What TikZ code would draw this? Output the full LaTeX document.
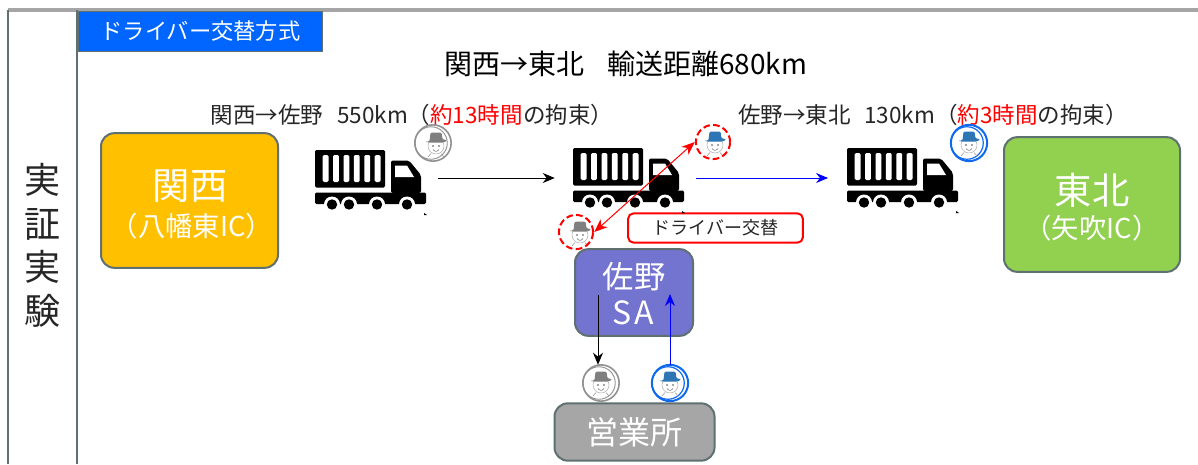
\documentclass[tikz,border=0pt]{standalone}
\usepackage{fontspec}
\setmainfont{Noto Sans CJK JP}
\usetikzlibrary{arrows.meta}
\definecolor{frameline}{HTML}{5F7070}
\definecolor{topline}{HTML}{A6A6A6}
\definecolor{capgrey}{HTML}{7F7F7F}
\definecolor{capblue}{HTML}{2E75B6}
\definecolor{ringblue}{HTML}{0F6AF0}
\definecolor{tabblue}{HTML}{0066FF}
\definecolor{kansaifill}{HTML}{FFC000}
\definecolor{tohokufill}{HTML}{92D050}
\definecolor{sanofill}{HTML}{7373D0}
\definecolor{officefill}{HTML}{A6A6A6}
\definecolor{txtdark}{HTML}{262626}
\newcommand{\fs}[1]{\fontsize{#1}{#1}\selectfont}
\tikzset{
  x=0.75pt,y=-0.75pt,
  areabox/.style={draw=frameline,line width=1.5pt,rounded corners=10pt,text=white,align=center,inner sep=0pt},
  truckbox/.style={minimum width=84pt,minimum height=45pt,inner sep=0pt},
  ringnode/.style={circle,minimum size=27pt,inner sep=0pt},
  arr/.style={-{Stealth[length=9pt,width=7.5pt]},line width=0.75pt},
  pics/truck/.style={code={
    \fill[black,rounded corners=1pt] (0,0) rectangle (70,37.5);
    \foreach \k in {0,1,2,3,4,5}{
      \fill[white,rounded corners=1pt] (7.7+\k*10.4,5) rectangle (13.5+\k*10.4,32);
    }
    \fill[black,rounded corners=1.5pt] (76,10.5) -- (94,10.5) -- (106,25) -- (106,43) -- (76,43) -- cycle;
    \fill[white] (80,15.5) -- (92,15.5) -- (99,27) -- (80,27) -- cycle;
    \fill[black,rounded corners=1pt] (0,42.5) rectangle (111,54);
    \foreach \w in {17,34,62,92}{
      \fill[white] (\w,54.5) circle (6pt);
      \fill[black] (\w,54.5) circle (3.9pt);
    }
    \fill[black] (109,63) -- (112,65) -- (109,65) -- cycle;
  }},
  pics/driver/.style={code={
    \draw[capgrey!60,line width=0.4pt,fill=white] (0,3) circle (6pt);
    \fill[#1,rounded corners=1pt] (-6.5,-1.5) -- (-5.5,-10.5) -- (5.5,-10.5) -- (6.5,-3.5) -- (11.5,-3) -- (8,-0.5) -- (-8,-0.5) -- (-11.5,-1.5) -- cycle;
    \fill[black!70] (-3,3) circle (0.6pt) (3,3) circle (0.6pt);
    \draw[black!60,line width=0.35pt] (-3,6.5) .. controls (-1,9) and (1,9) .. (3,6.5);
    \draw[capgrey!70,line width=0.5pt] (-5,10.5) -- (-8,14) (5,10.5) -- (8,14);
  }},
  pics/ringgrey/.style={code={
    \draw[capgrey!85,line width=1.2pt] (0,0) circle (13.6pt);
    \draw[capgrey!85,line width=0.7pt] (-2,0) circle (12.2pt);
  }},
  pics/ringblue/.style={code={
    \draw[ringblue,line width=1.5pt] (0,0) circle (13.6pt);
    \draw[ringblue,line width=0.9pt] (-2,0) circle (12.2pt);
  }},
  pics/ringred/.style={code={
    \draw[red,line width=1.5pt,dash pattern=on 5pt off 2.5pt] (0,0) circle (12.8pt);
  }},
}
\begin{document}
\begin{tikzpicture}
\useasboundingbox (0,0) rectangle (1198,464);
\fill[white] (0,0) rectangle (1198,464);
% frame
\coordinate (ftl) at (8,10);
\coordinate (ftr) at (1198,10);
\coordinate (fbl) at (8,464);
\coordinate (fml) at (77,10);
\coordinate (fmb) at (77,464);
\draw[topline,line width=3pt] (ftl) -- (ftr);
\draw[frameline,line width=1.5pt] (fbl) -- (ftl);
\draw[frameline,line width=1.5pt] (fmb) -- (fml);
\node[draw=frameline,line width=1.2pt,fill=tabblue,text=white,minimum width=183pt,minimum height=30pt,inner sep=0pt] (tab) at (200.5,31.5) {\fs{16.7pt}ドライバー交替方式\hspace{4pt}};
% left column
\node[text=txtdark] (v1) at (42,180) {\fs{27pt}実};
\node[text=txtdark] (v2) at (42,224) {\fs{27pt}証};
\node[text=txtdark] (v3) at (42,267) {\fs{27pt}実};
\node[text=txtdark] (v4) at (42,311) {\fs{27pt}験};
% headings
\node[text=black] (title) at (626,64) {\fs{21pt}関西→東北\hspace{0.8em}輸送距離680km};
\node[text=txtdark] (leg1) at (412,115) {\fs{16.9pt}関西→佐野\hspace{0.6em}550km（{\color{red}約13時間}の拘束）};
\node[text=txtdark] (leg2) at (933,115) {\fs{16.9pt}佐野→東北\hspace{0.6em}130km（{\color{red}約3時間}の拘束）};
% area boxes
\node[areabox,fill=kansaifill,minimum width=132.75pt,minimum height=101pt] (kansai) at (189.5,200.5) {};
\node[text=white] (k1) at (190,186) {\fs{28pt}関西};
\node[text=white] (k2) at (192,226) {\fs{20.5pt}（八幡東IC）};
\node[areabox,fill=tohokufill,minimum width=132pt,minimum height=101pt] (tohoku) at (1092,204.5) {};
\node[text=white] (t1x) at (1092,190) {\fs{28pt}東北};
\node[text=white] (t2x) at (1092,228) {\fs{20.5pt}（矢吹IC）};
\node[areabox,fill=sanofill,minimum width=88.5pt,minimum height=65pt] (sano) at (634,292.5) {};
\node[text=white] (s1x) at (634,277) {\fs{23.5pt}佐野};
\node[text=white] (s2x) at (633,313) {\fs{24pt}S\hspace{2pt}A};
\node[areabox,fill=officefill,minimum width=120pt,minimum height=43pt] (office) at (634.5,432) {\fs{24pt}営業所};
\node[draw=red,line width=1.5pt,rounded corners=4pt,fill=white,text=txtdark,minimum width=131pt,minimum height=22pt,inner sep=0pt] (swap) at (715.5,228) {\fs{13.5pt}ドライバー交替\hspace{3pt}};
% trucks
\node[truckbox] (tr1) at (371,178) {};
\node[truckbox] (tr2) at (629,178) {};
\node[truckbox] (tr3) at (903,178) {};
\pic at (315,150) {truck};
\pic at (573,148) {truck};
\pic at (847,148) {truck};
% drivers
\node[ringnode] (d1) at (433,143) {};
\pic at (d1) {ringgrey};
\pic at (436,143) {driver=capgrey};
\node[ringnode] (d2) at (713,142) {};
\pic at (715,142) {driver=capblue};
\pic at (d2) {ringred};
\node[ringnode] (d3) at (576,232) {};
\pic at (580,232) {driver=capgrey};
\pic at (d3) {ringred};
\node[ringnode] (d4) at (601,383) {};
\pic at (d4) {ringgrey};
\pic at (601,382) {driver=capgrey};
\node[ringnode] (d5) at (670,383) {};
\pic at (d5) {ringblue};
\pic at (670,382) {driver=capblue};
\node[ringnode] (d6) at (969,143) {};
\pic at (d6) {ringblue};
\pic at (969,142) {driver=capblue};
% connectors
\coordinate (sa) at (598,295);
\coordinate (sb) at (670,294);
\draw[arr,black,shorten <=8.25pt,shorten >=13.5pt] (tr1.east) -- (tr2.west);
\draw[arr,blue,shorten <=8.25pt,shorten >=14pt] (tr2.east) -- (tr3.west);
\draw[{Stealth[length=10pt,width=8pt]}-{Stealth[length=10pt,width=8pt]},red,line width=0.75pt] (d3.east) -- (d2.west);
\draw[arr,black] (sa) -- (sa |- d4.north);
\draw[arr,blue] (d5.north) -- (sb);
\end{tikzpicture}
\end{document}
